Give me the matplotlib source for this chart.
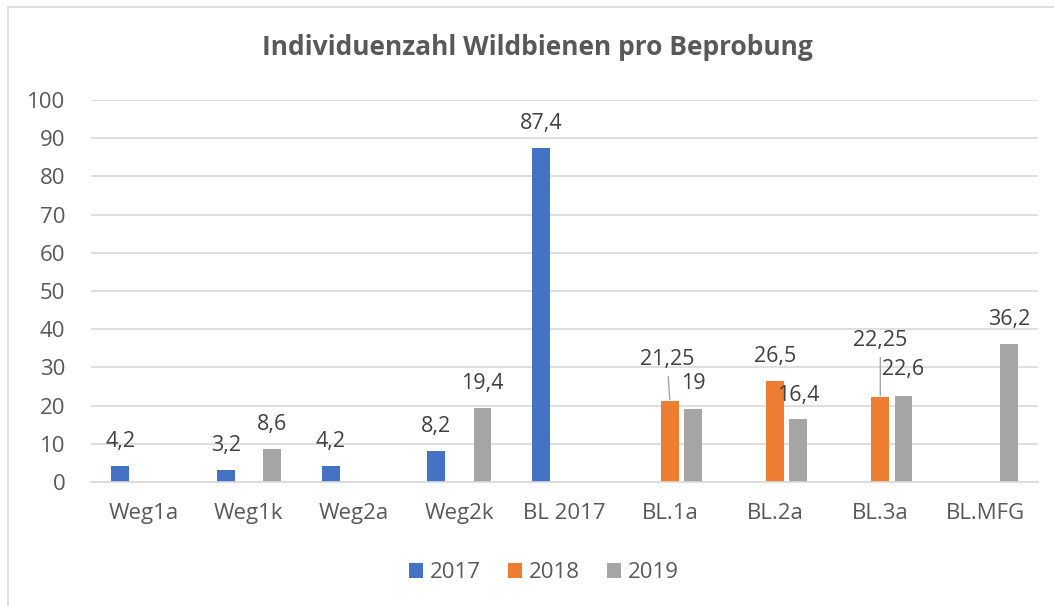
import matplotlib.pyplot as plt
import numpy as np
from matplotlib.lines import Line2D

# data
categories = ['Weg1a', 'Weg1k', 'Weg2a', 'Weg2k', 'BL 2017', 'BL.1a', 'BL.2a', 'BL.3a', 'BL.MFG']
years = ['2017', '2018', '2019']
vals_2017 = [4.2, 3.2, 4.2, 8.2, 87.4, np.nan, np.nan, np.nan, np.nan]
vals_2018 = [np.nan, np.nan, np.nan, np.nan, np.nan, 21.25, 26.5, 22.25, np.nan]
vals_2019 = [np.nan, 8.6, np.nan, 19.4, np.nan, 19, 16.4, 22.6, 36.2]
colors = ['#4472C4', '#ED7D31', '#A5A5A5']

plt.rcParams['font.family'] = ['Open Sans', 'DejaVu Sans']
text_col = '#595959'
label_col = '#404040'

fig = plt.figure(figsize=(10.54, 6.06), dpi=100)
ax = fig.add_axes([0.0863, 0.2046, 0.8987, 0.6304])

# chart area border (only left and top edges visible)
fig.add_artist(Line2D([0.0076, 0.0076], [0.0, 0.9884], transform=fig.transFigure,
                      color='#d9d9d9', linewidth=1.2))
fig.add_artist(Line2D([0.0076, 1.0], [0.9884, 0.9884], transform=fig.transFigure,
                      color='#d9d9d9', linewidth=1.2))

x = np.arange(len(categories))
width = 0.17
step = 0.22
series = [vals_2017, vals_2018, vals_2019]

# label offsets in points (dx, dy) for labels that Excel moved
special = {(1, 5): (-2, 30), (1, 7): (0, 41), (2, 5): (0, 19), (2, 7): (0, 19)}
leader = [(1, 5), (1, 7)]

for i, (vals, col, yr) in enumerate(zip(series, colors, years)):
    pos = x + (i - 1) * step
    ax.bar(pos, vals, width=width, color=col, label=yr, zorder=3)
    for j, v in enumerate(vals):
        if np.isnan(v):
            continue
        txt = f"{v:g}".replace('.', ',')
        dx, dy = special.get((i, j), (0, 17.5))
        arrow = None
        if (i, j) in leader:
            arrow = dict(arrowstyle='-', color='#a6a6a6', lw=1, shrinkA=3, shrinkB=1)
        ax.annotate(txt, xy=(pos[j], v), xytext=(dx, dy), textcoords='offset points',
                    ha='center', va='center', fontsize=15.5, color=label_col,
                    arrowprops=arrow)

# layout
ax.set_xlim(-0.5, len(categories) - 0.5)
ax.set_ylim(0, 100)
ax.set_yticks(np.arange(0, 101, 10))
ax.set_xticks(x)
ax.set_xticklabels(categories)
ax.grid(axis='y', color='#d9d9d9', linewidth=1.2, zorder=0)
for s in ['top', 'right', 'left']:
    ax.spines[s].set_visible(False)
ax.spines['bottom'].set_color('#d9d9d9')
ax.spines['bottom'].set_linewidth(1.2)
ax.spines['bottom'].set_zorder(4)
ax.tick_params(axis='both', length=0, labelsize=16, colors=text_col)
ax.tick_params(axis='x', pad=15)
ax.tick_params(axis='y', pad=18.5)

fig.text(0.510, 0.921, 'Individuenzahl Wildbienen pro Beprobung', ha='center', va='center',
         fontsize=19, fontweight='bold', color=text_col)

fig.legend(loc='center', bbox_to_anchor=(0.516, 0.055), ncol=3, frameon=False,
           fontsize=16, labelcolor=text_col, handlelength=0.65, handleheight=0.65,
           handletextpad=0.3, columnspacing=1.2)

plt.savefig('out.png', dpi=100)
